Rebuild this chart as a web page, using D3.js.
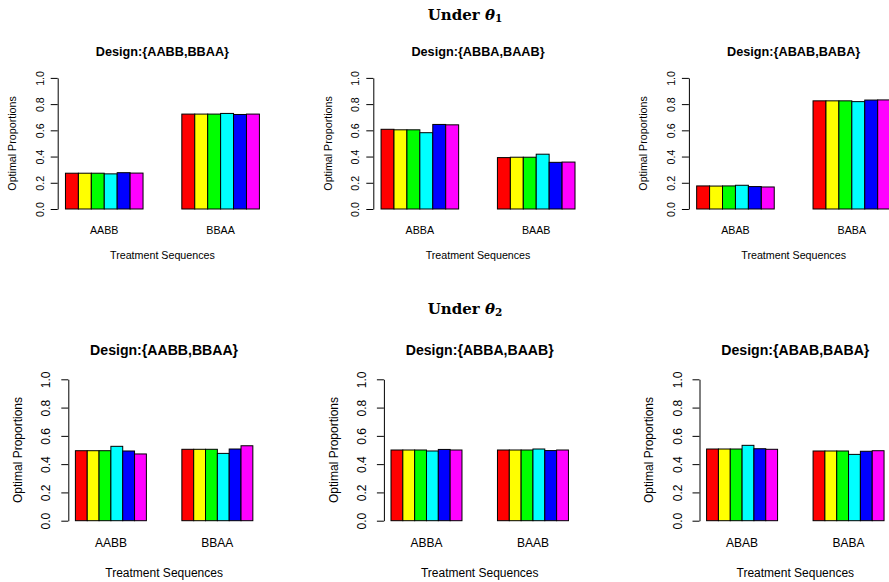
<!DOCTYPE html>
<html>
<head>
<meta charset="utf-8">
<script src="https://cdn.jsdelivr.net/npm/d3@7/dist/d3.min.js"></script>
<style>
  html, body { margin: 0; padding: 0; background: #fff; }
  svg { display: block; }
  text { font-family: "Liberation Sans", Arial, Helvetica, sans-serif; fill: #000; }
</style>
</head>
<body>
<svg id="chart" width="889" height="582"></svg>
<script>
// ---------------- DATA ----------------
const rowTitles = ["1", "2"]; // subscript of theta
const designTitles = ["Design:{AABB,BBAA}", "Design:{ABBA,BAAB}", "Design:{ABAB,BABA}"];
const sequences = [["AABB", "BBAA"], ["ABBA", "BAAB"], ["ABAB", "BABA"]];
const barColors = ["#FF0000", "#FFFF00", "#00FF00", "#00FFFF", "#0000FF", "#FF00FF"];
const yTicks = [0, 0.2, 0.4, 0.6, 0.8, 1.0];
const yTickLabels = ["0.0", "0.2", "0.4", "0.6", "0.8", "1.0"];
const xTitle = "Treatment Sequences";
const yTitle = "Optimal Proportions";

// Under theta_1
const t1_AABB = [0.273, 0.273, 0.273, 0.268, 0.277, 0.274];
const t1_BBAA = [0.724, 0.724, 0.724, 0.729, 0.721, 0.724];
const t1_ABBA = [0.608, 0.604, 0.604, 0.582, 0.645, 0.642];
const t1_BAAB = [0.392, 0.395, 0.395, 0.418, 0.356, 0.358];
const t1_ABAB = [0.176, 0.175, 0.176, 0.181, 0.171, 0.168];
const t1_BABA = [0.825, 0.825, 0.825, 0.819, 0.831, 0.832];
// Under theta_2
const t2_AABB = [0.495, 0.495, 0.495, 0.526, 0.493, 0.472];
const t2_BBAA = [0.505, 0.505, 0.505, 0.476, 0.507, 0.530];
const t2_ABBA = [0.500, 0.500, 0.500, 0.493, 0.504, 0.500];
const t2_BAAB = [0.500, 0.500, 0.500, 0.507, 0.496, 0.500];
const t2_ABAB = [0.507, 0.507, 0.507, 0.533, 0.509, 0.505];
const t2_BABA = [0.493, 0.493, 0.493, 0.469, 0.491, 0.495];

const rowsData = [
  [[t1_AABB, t1_BBAA], [t1_ABBA, t1_BAAB], [t1_ABAB, t1_BABA]],
  [[t2_AABB, t2_BBAA], [t2_ABBA, t2_BAAB], [t2_ABAB, t2_BABA]]
];

// ---------------- LAYOUT ----------------
const colOffset = [0, 315.6, 631.2];
const rows = [
  { axisX: 57.7, bw: 12.93, yTop: 77.9, yBot: 209, fs: 10.7, titleFs: 12.7, tickOff: 18, yTitleOff: 45.7,
    titleY: 52, xLabY: 229.5, xTitleY: 255, mainY: 15 },
  { axisX: 68.3, bw: 11.83, yTop: 379.3, yBot: 520.7, fs: 12, titleFs: 14.1, tickOff: 22, yTitleOff: 50.3,
    titleY: 350, xLabY: 543.3, xTitleY: 572.7, mainY: 309.3 }
];

const svg = d3.select("#chart");
svg.append("rect").attr("width", 889).attr("height", 582).attr("fill", "#fff");

rows.forEach((R, r) => {
  // main row title
  const mt = svg.append("text")
    .attr("x", 465).attr("y", R.mainY)
    .attr("text-anchor", "middle").attr("dominant-baseline", "central")
    .style("font-family", "'DejaVu Serif', serif").style("font-weight", "bold").style("font-size", "15px");
  mt.append("tspan").text("Under ");
  mt.append("tspan").style("font-style", "italic").text("θ");
  mt.append("tspan").attr("dy", "3").style("font-size", "10.5px").text(rowTitles[r]);

  for (let c = 0; c < 3; c++) {
    const ax = R.axisX + colOffset[c];
    const x = d3.scaleLinear().domain([-0.6, 15.6]).range([ax, ax + 16.2 * R.bw]);
    const y = d3.scaleLinear().domain([0, 1]).range([R.yBot, R.yTop]);
    const g = svg.append("g");
    const groups = rowsData[r][c];

    // bars
    groups.forEach((vals, gi) => {
      g.selectAll(null).data(vals).enter().append("rect")
        .attr("x", (d, i) => x(gi * 9 + i))
        .attr("width", x(1) - x(0))
        .attr("y", d => y(d))
        .attr("height", d => y(0) - y(d))
        .attr("fill", (d, i) => barColors[i])
        .attr("stroke", "#000").attr("stroke-width", 1);
      // group label
      g.append("text")
        .attr("x", x(gi * 9 + 3)).attr("y", R.xLabY)
        .attr("text-anchor", "middle").attr("dominant-baseline", "central")
        .style("font-size", R.fs + "px").text(sequences[c][gi]);
    });

    // y axis
    const axis = d3.axisLeft(y).tickValues(yTicks).tickSize(7).tickSizeOuter(0)
      .tickFormat((d, i) => yTickLabels[i]);
    const ag = g.append("g").attr("transform", `translate(${ax},0)`).call(axis);
    ag.select(".domain").attr("stroke", "#000");
    ag.selectAll(".tick line").attr("stroke", "#000");
    ag.selectAll(".tick text")
      .attr("x", null).attr("dy", null)
      .attr("transform", `translate(${-R.tickOff},0) rotate(-90)`)
      .attr("text-anchor", "middle").attr("dominant-baseline", "central")
      .style("font-family", "'Liberation Sans', Arial, sans-serif")
      .style("font-size", R.fs + "px").attr("fill", "#000");

    // titles
    const cx = (x.range()[0] + x.range()[1]) / 2;
    g.append("text").attr("x", cx).attr("y", R.titleY)
      .attr("text-anchor", "middle").attr("dominant-baseline", "central")
      .style("font-weight", "bold").style("font-size", R.titleFs + "px")
      .text(designTitles[c]);
    g.append("text").attr("x", cx).attr("y", R.xTitleY)
      .attr("text-anchor", "middle").attr("dominant-baseline", "central")
      .style("font-size", R.fs + "px").text(xTitle);
    g.append("text")
      .attr("transform", `translate(${ax - R.yTitleOff},${(R.yTop + R.yBot) / 2}) rotate(-90)`)
      .attr("text-anchor", "middle").attr("dominant-baseline", "central")
      .style("font-size", R.fs + "px").text(yTitle);
  }
});
</script>
</body>
</html>
